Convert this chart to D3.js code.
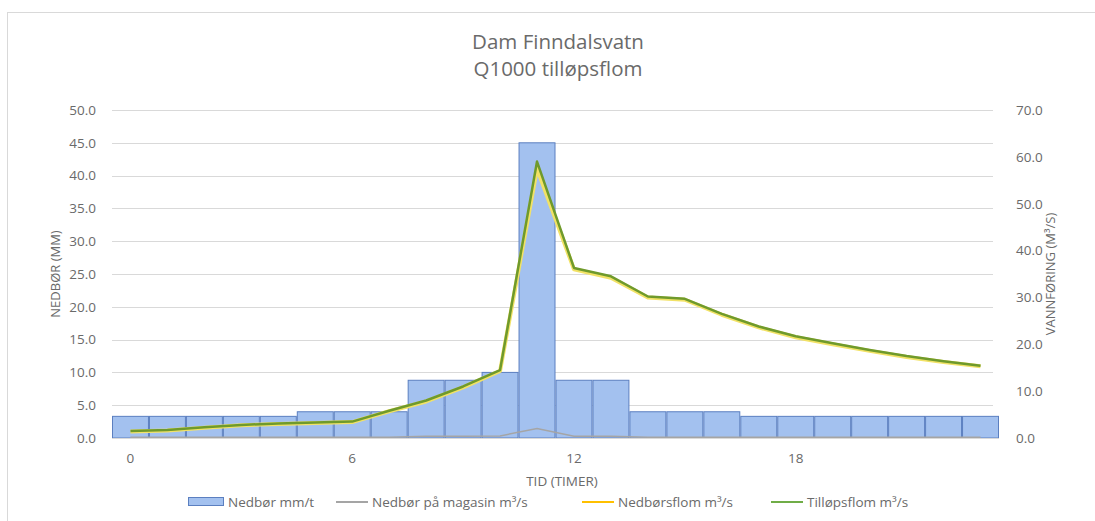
<!DOCTYPE html>
<html>
<head>
<meta charset="utf-8">
<script src="https://cdn.jsdelivr.net/npm/d3@7"></script>
<style>
  html, body { margin: 0; padding: 0; background: #fff; }
  svg { display: block; font-family: "Open Sans", "Liberation Sans", sans-serif; }
</style>
</head>
<body>
<svg id="chart" width="1095" height="521"></svg>
<script>
// ---- data ----
const hours = d3.range(0, 24); // categories 0..23 (TID, timer)
const xTickLabels = [0, 6, 12, 18];
const nedborMm = [3.3, 3.3, 3.3, 3.3, 3.3, 4.0, 4.0, 4.0, 8.8, 8.8, 10.0, 45.0,
                  8.8, 8.8, 4.0, 4.0, 4.0, 3.3, 3.3, 3.3, 3.3, 3.3, 3.3, 3.3];
const nedborMagasin = [0.15, 0.15, 0.15, 0.15, 0.15, 0.18, 0.18, 0.18, 0.4, 0.4, 0.45, 2.0,
                       0.4, 0.4, 0.18, 0.18, 0.18, 0.15, 0.15, 0.15, 0.15, 0.15, 0.15, 0.15];
const nedborsflom = [1.4, 1.6, 2.2, 2.7, 3.0, 3.2, 3.4, 5.7, 7.8, 10.8, 14.3, 57.5,
                     36.0, 34.2, 30.0, 29.5, 26.3, 23.6, 21.5, 20.0, 18.6, 17.3, 16.2, 15.3];
const tillopsflom = [1.5, 1.7, 2.3, 2.8, 3.1, 3.3, 3.5, 5.8, 8.0, 11.0, 14.5, 59.0,
                     36.3, 34.5, 30.2, 29.7, 26.5, 23.8, 21.7, 20.2, 18.8, 17.5, 16.4, 15.4];
const leftTicks = d3.range(0, 50.01, 5);
const rightTicks = d3.range(0, 70.01, 10);
const titleLines = ["Dam Finndalsvatn", "Q1000 tilløpsflom"];
const legendItems = [
  { label: "Nedbør mm/t", type: "bar", color: "#a3c1ef", stroke: "#5b7fc0" },
  { label: "Nedbør på magasin m³/s", type: "line", color: "#a5a5a5" },
  { label: "Nedbørsflom m³/s", type: "line", color: "#ffc000" },
  { label: "Tilløpsflom m³/s", type: "line", color: "#70ad47" }
];

// ---- layout ----
const svg = d3.select("#chart");
const plot = { left: 112, right: 999, top: 110, bottom: 438 };
const textColor = "#6a6a6a";
const tickFont = 13.5;

// chart border
svg.append("rect").attr("x", 7.5).attr("y", 12.5).attr("width", 1200).attr("height", 600)
  .attr("fill", "none").attr("stroke", "#d9d9d9").attr("stroke-width", 1);

const x = d3.scaleBand().domain(hours).range([plot.left, plot.right]).padding(0);
const yL = d3.scaleLinear().domain([0, 50]).range([plot.bottom, plot.top]);
const yR = d3.scaleLinear().domain([0, 70]).range([plot.bottom, plot.top]);

// gridlines
svg.append("g").selectAll("line").data(leftTicks).join("line")
  .attr("x1", plot.left).attr("x2", plot.right - 6)
  .attr("y1", d => Math.round(yL(d)) + 0.5).attr("y2", d => Math.round(yL(d)) + 0.5)
  .attr("stroke", "#d9d9d9").attr("stroke-width", 1);

// left axis labels
const gL = svg.append("g").attr("transform", `translate(${plot.left - 13},0)`)
  .call(d3.axisLeft(yL).tickValues(leftTicks).tickFormat(d3.format(".1f")).tickSize(0));
gL.select(".domain").remove();
gL.selectAll("text").attr("fill", textColor).attr("font-size", tickFont)
  .style("font-family", "'Open Sans', sans-serif");

// right axis labels
const gR = svg.append("g").attr("transform", `translate(${plot.right + 14},0)`)
  .call(d3.axisRight(yR).tickValues(rightTicks).tickFormat(d3.format(".1f")).tickSize(0));
gR.select(".domain").remove();
gR.selectAll("text").attr("fill", textColor).attr("font-size", tickFont)
  .style("font-family", "'Open Sans', sans-serif");

// bars
svg.append("g").selectAll("rect").data(hours).join("rect")
  .attr("x", d => x(d) + 0.5)
  .attr("y", d => yL(nedborMm[d]))
  .attr("width", x.bandwidth() - 1)
  .attr("height", d => plot.bottom - yL(nedborMm[d]))
  .attr("fill", "#a3c1ef").attr("stroke", "#5b7fc0").attr("stroke-width", 1);

// x axis line
svg.append("line").attr("x1", plot.left).attr("x2", plot.right)
  .attr("y1", plot.bottom + 0.5).attr("y2", plot.bottom + 0.5)
  .attr("stroke", "#d9d9d9");

// x tick labels
const gX = svg.append("g").attr("transform", `translate(0,${plot.bottom + 12})`)
  .call(d3.axisBottom(x).tickValues(xTickLabels).tickSize(0));
gX.select(".domain").remove();
gX.selectAll("text").attr("fill", textColor).attr("font-size", tickFont)
  .style("font-family", "'Open Sans', sans-serif");

// lines
const lineGen = arr => d3.line()
  .x((d, i) => x(hours[i]) + x.bandwidth() / 2)
  .y(d => yR(d))(arr);

svg.append("path").attr("d", lineGen(nedborMagasin))
  .attr("fill", "none").attr("stroke", "#a5a5a5").attr("stroke-width", 1.5);
svg.append("path").attr("d", lineGen(nedborsflom))
  .attr("fill", "none").attr("stroke", "#f2e266").attr("stroke-width", 4)
  .attr("stroke-linejoin", "round");
svg.append("path").attr("d", lineGen(tillopsflom))
  .attr("fill", "none").attr("stroke", "#6f9a2c").attr("stroke-width", 2.5)
  .attr("stroke-linejoin", "round");

// titles
svg.append("g").selectAll("text").data(titleLines).join("text")
  .attr("x", 558).attr("y", (d, i) => 49 + i * 27)
  .attr("text-anchor", "middle").attr("fill", textColor)
  .attr("font-size", 20.5).text(d => d);

// axis titles
svg.append("text").attr("transform", `translate(60,${(plot.top + plot.bottom) / 2}) rotate(-90)`)
  .attr("text-anchor", "middle").attr("fill", textColor).attr("font-size", 13)
  .text("NEDBØR (MM)");
svg.append("text").attr("transform", `translate(1055,${(plot.top + plot.bottom) / 2}) rotate(-90)`)
  .attr("text-anchor", "middle").attr("fill", textColor).attr("font-size", 13)
  .text("VANNFØRING (M³/S)");
svg.append("text").attr("x", 562).attr("y", 486)
  .attr("text-anchor", "middle").attr("fill", textColor).attr("font-size", 13.5)
  .text("TID (TIMER)");

// legend
const legendY = 502;
const legendX = [188, 336, 582, 771];
const lg = svg.append("g");
legendItems.forEach((it, i) => {
  const g = lg.append("g").attr("transform", `translate(${legendX[i]},${legendY})`);
  if (it.type === "bar") {
    g.append("rect").attr("x", 0.5).attr("y", -4.5).attr("width", 35).attr("height", 8)
      .attr("fill", it.color).attr("stroke", it.stroke);
    g.append("text").attr("x", 40).attr("y", 4.5).attr("fill", textColor)
      .attr("font-size", 13.5).text(it.label);
  } else {
    g.append("line").attr("x1", 0).attr("x2", 32).attr("y1", 0).attr("y2", 0)
      .attr("stroke", it.color).attr("stroke-width", 2);
    g.append("text").attr("x", 36).attr("y", 4.5).attr("fill", textColor)
      .attr("font-size", 13.5).text(it.label);
  }
});
</script>
</body>
</html>
